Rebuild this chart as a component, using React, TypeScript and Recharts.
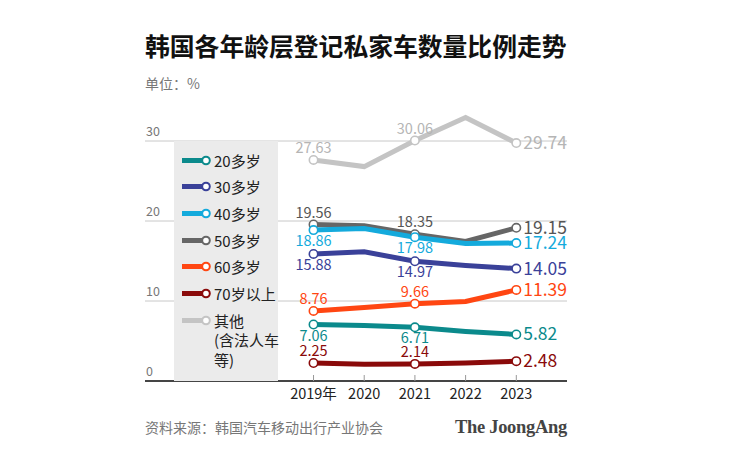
import { LineChart, Line, XAxis, YAxis, CartesianGrid, LabelList } from "recharts"

const years = [2019, 2020, 2021, 2022, 2023]
const age20 = [7.06, 6.95, 6.71, 6.2, 5.82]
const age30 = [15.88, 16.15, 14.97, 14.45, 14.05]
const age40 = [18.86, 19.05, 17.98, 17.2, 17.24]
const age50 = [19.56, 19.4, 18.35, 17.45, 19.15]
const age60 = [8.76, 9.2, 9.66, 9.95, 11.39]
const age70 = [2.25, 2.1, 2.14, 2.25, 2.48]
const others = [27.63, 26.8, 30.06, 32.95, 29.74]
const yTicks = [0, 10, 20, 30]
const labeledIdx = [0, 2, 4]

const FONT = '"Noto Sans CJK SC", "Noto Sans", sans-serif'

// legend order; drawing order is separate below
const series = [
    { key: "a20", name: "20多岁", color: "#0b8a8c", text: "#0b8a8c", values: age20, below: true },
    { key: "a30", name: "30多岁", color: "#3a4199", text: "#3a4199", values: age30, below: true },
    { key: "a40", name: "40多岁", color: "#14aadc", text: "#14aadc", values: age40, below: true },
    { key: "a50", name: "50多岁", color: "#666666", text: "#555555", values: age50, below: false },
    { key: "a60", name: "60多岁", color: "#ff4612", text: "#ff4612", values: age60, below: false },
    { key: "a70", name: "70岁以上", color: "#8a0a0a", text: "#8a0a0a", values: age70, below: false },
    { key: "oth", name: "其他", color: "#c4c4c4", text: "#b5b5b5", values: others, below: false },
]
const drawOrder = ["oth", "a70", "a60", "a20", "a30", "a50", "a40"]

const data = years.map((year, i) => {
    const row: Record<string, number> = { year }
    series.forEach(s => { row[s.key] = s.values[i] })
    return row
})

function makeDot(color: string) {
    return (p: any) => {
        if (!labeledIdx.includes(p.index)) return <g key={p.key} />
        return <circle key={p.key} cx={p.cx} cy={p.cy} r={4.2} fill="#fff" stroke={color} strokeWidth={1.6} />
    }
}

function makeLabel(color: string, below: boolean) {
    return (p: any) => {
        if (!labeledIdx.includes(p.index)) return null
        const v = Number(p.value).toFixed(2)
        if (p.index === 4) {
            return (
                <text x={p.x + 7} y={p.y + 6} fill={color} fontSize={17.5} fontFamily={FONT} textAnchor="start">
                    {v}
                </text>
            )
        }
        return (
            <text x={p.x} y={below ? p.y + 16 : p.y - 7} fill={color} fontSize={14.5} fontFamily={FONT} textAnchor="middle">
                {v}
            </text>
        )
    }
}

function XTick(p: any) {
    const yr = p.payload.value
    return (
        <g>
            <line x1={p.x} x2={p.x} y1={p.y - 6} y2={p.y} stroke="#999" strokeWidth={1} />
            <text x={p.x} y={p.y + 18} textAnchor="middle" fontSize={14.5} fill="#222" fontFamily={FONT}>
                {yr === 2019 ? "2019年" : String(yr)}
            </text>
        </g>
    )
}

function YTick(p: any) {
    return (
        <text x={p.x + 1} y={p.y - 5} textAnchor="start" fontSize={12.5} fill="#777" fontFamily={FONT}>
            {p.payload.value}
        </text>
    )
}

function LegendBox() {
    return (
        <div style={{ position: "absolute", left: 174, top: 141, width: 104, height: 240, background: "#ebebeb", fontFamily: FONT }}>
            {series.map((s, i) => (
                <div key={s.key} style={{ position: "absolute", left: 0, top: 9.5 + i * 26.7, display: "flex", alignItems: "flex-start" }}>
                    <svg width={38} height={19} style={{ display: "block" }}>
                        <line x1={8} x2={30} y1={9.5} y2={9.5} stroke={s.color} strokeWidth={5} />
                        <circle cx={32} cy={9.5} r={3.8} fill="#fff" stroke={s.color} strokeWidth={2} />
                    </svg>
                    <div style={{ marginLeft: 2, fontSize: 15, lineHeight: "19.5px", color: "#222", whiteSpace: "nowrap" }}>
                        {s.key === "oth" ? <>其他<br />(含法人车<br />等)</> : s.name}
                    </div>
                </div>
            ))}
        </div>
    )
}

export default function App() {
    return (
        <div style={{ position: "absolute", left: 0, top: 0, width: 730, height: 458, background: "#fff", fontFamily: FONT }}>
            <div style={{ position: "absolute", left: 145, top: 30, fontSize: 24.8, fontWeight: 700, lineHeight: "30px", color: "#111", whiteSpace: "nowrap" }}>
                韩国各年龄层登记私家车数量比例走势
            </div>
            <div style={{ position: "absolute", left: 145, top: 73, fontSize: 14, lineHeight: "20px", color: "#777" }}>单位：%</div>
            <LineChart width={730} height={458} data={data} margin={{ top: 101, right: 163, left: 144, bottom: 47 }}>
                <CartesianGrid horizontal vertical={false} stroke="#c8c8c8" strokeWidth={1} horizontalValues={yTicks} />
                <XAxis
                    dataKey="year"
                    type="number"
                    domain={[2015.676, 2024]}
                    ticks={years}
                    height={30}
                    tickSize={0}
                    tickMargin={0}
                    tick={XTick}
                    axisLine={{ stroke: "#111", strokeWidth: 1.5 }}
                    tickLine={false}
                    interval={0}
                />
                <YAxis
                    type="number"
                    domain={[0, 35]}
                    ticks={yTicks}
                    width={1}
                    tickSize={0}
                    tickMargin={0}
                    tick={YTick}
                    axisLine={false}
                    tickLine={false}
                    interval={0}
                />
                {drawOrder.map(k => {
                    const s = series.find(x => x.key === k)!
                    return (
                        <Line
                            key={s.key}
                            dataKey={s.key}
                            name={s.name}
                            stroke={s.color}
                            strokeWidth={5}
                            type="linear"
                            dot={makeDot(s.color)}
                            activeDot={false}
                            isAnimationActive={false}
                        >
                            <LabelList dataKey={s.key} content={makeLabel(s.text, s.below)} />
                        </Line>
                    )
                })}
            </LineChart>
            <LegendBox />
            <div style={{ position: "absolute", left: 145, top: 417, fontSize: 14, lineHeight: "20px", color: "#777" }}>
                资料来源：韩国汽车移动出行产业协会
            </div>
            <div style={{ position: "absolute", right: 163, top: 415, fontSize: 18.5, lineHeight: "24px", fontWeight: 700, color: "#444", fontFamily: '"Liberation Serif", "DejaVu Serif", serif', letterSpacing: -0.3 }}>
                The JoongAng
            </div>
        </div>
    )
}
